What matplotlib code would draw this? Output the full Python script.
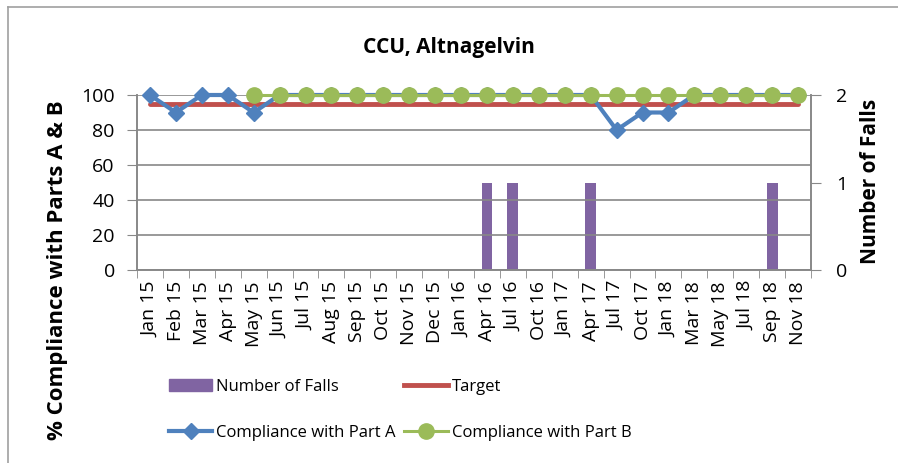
import numpy as np
import matplotlib.pyplot as plt
from matplotlib.lines import Line2D
from matplotlib.patches import Patch

months = ['Jan 15', 'Feb 15', 'Mar 15', 'Apr 15', 'May 15', 'Jun 15', 'Jul 15',
          'Aug 15', 'Sep 15', 'Oct 15', 'Nov 15', 'Dec 15', 'Jan 16', 'Apr 16',
          'Jul 16', 'Oct 16', 'Jan 17', 'Apr 17', 'Jul 17', 'Oct 17', 'Jan 18',
          'Mar 18', 'May 18', 'Jul 18', 'Sep 18', 'Nov 18']
falls = [0, 0, 0, 0, 0, 0, 0, 0, 0, 0, 0, 0, 0, 1, 1, 0, 0, 1, 0, 0, 0, 0, 0, 0, 1, 0]
target = [95, 95, 95, 95, 95, 95, 95, 95, 95, 95, 95, 95, 95, 95, 95, 95, 95, 95,
          95, 95, 95, 95, 95, 95, 95, 95]
part_a = [100, 90, 100, 100, 90, 100, 100, 100, 100, 100, 100, 100, 100, 100, 100,
          100, 100, 100, 80, 90, 90, 100, 100, 100, 100, 100]
part_b = [None, None, None, None, 100, 100, 100, 100, 100, 100, 100, 100, 100, 100,
          100, 100, 100, 100, 100, 100, 100, 100, 100, 100, 100, 100]

plt.rcParams['font.family'] = ['Open Sans', 'DejaVu Sans']
plt.rcParams['font.size'] = 12

purple = '#8064A2'
red = '#C0504D'
blue = '#4F81BD'
green = '#9BBB59'
grey = '#888888'

x = np.arange(len(months))
pb = np.array([np.nan if v is None else v for v in part_b], dtype=float)

fig = plt.figure(figsize=(8.98, 4.63), dpi=100)
ax = fig.add_axes([137 / 898, 1 - 270 / 463, (811 - 137) / 898, 175 / 463])
ax2 = ax.twinx()

ax2.bar(x, falls, width=0.42, color=purple, zorder=2)
ax2.set_ylim(0, 2)
ax2.set_yticks([0, 1, 2])

ax.set_zorder(ax2.get_zorder() + 1)
ax.patch.set_visible(False)

ax.plot(x, target, color=red, lw=3.5, solid_capstyle='round', zorder=3, clip_on=False)
ax.plot(x, part_a, color=blue, lw=3, marker='D', markersize=8, zorder=4, clip_on=False)
ax.plot(x, pb, color=green, lw=2.2, marker='o', markersize=11, zorder=5, clip_on=False)

ax.set_ylim(0, 100)
ax.set_yticks([0, 20, 40, 60, 80, 100])
ax.set_xlim(-0.5, len(months) - 0.5)
ax.set_xticks(x)
ax.set_xticklabels(months, rotation=90, fontsize=14)
ax.set_xticks(np.arange(len(months) + 1) - 0.5, minor=True)
ax.tick_params(axis='x', which='major', length=0, pad=8)
ax.tick_params(axis='x', which='minor', length=6, color=grey, direction='out')
ax.tick_params(axis='y', length=7, color=grey, direction='out', pad=9, labelsize=14)
ax2.tick_params(axis='y', length=7, color=grey, direction='out', pad=11, labelsize=14)

for a in (ax, ax2):
    a.spines['top'].set_visible(False)
    for s in ('left', 'right', 'bottom'):
        a.spines[s].set_color(grey)
        a.spines[s].set_linewidth(1.2)

ax.grid(axis='y', color=grey, lw=1.2)
ax.set_axisbelow(True)

fig.text(0.5, 1 - 47 / 463, 'CCU, Altnagelvin', ha='center', va='center',
         fontsize=15, fontweight='bold')
fig.text(58 / 898, 1 - 270 / 463, '% Compliance with Parts A & B', rotation=90,
         ha='center', va='center', fontsize=16, fontweight='bold')
fig.text(871 / 898, 1 - 181 / 463, 'Number of Falls', rotation=90,
         ha='center', va='center', fontsize=15, fontweight='bold')

handles = [Patch(color=purple),
           Line2D([], [], color=blue, lw=3, marker='D', markersize=8),
           Line2D([], [], color=red, lw=3.5),
           Line2D([], [], color=green, lw=2.2, marker='o', markersize=11)]
labels = ['Number of Falls', 'Compliance with Part A', 'Target', 'Compliance with Part B']
fig.legend(handles, labels, ncol=2, frameon=False, loc='upper left',
           bbox_to_anchor=(154 / 898, 1 - 364 / 463), handlelength=2.6,
           handletextpad=0.25, columnspacing=0.5, labelspacing=1.8, fontsize=12)

fig.add_artist(Line2D([8 / 898, 8 / 898], [0, 1 - 7 / 463], color='#a0a0a0', lw=1.2))
fig.add_artist(Line2D([8 / 898, 1], [1 - 7 / 463, 1 - 7 / 463], color='#a0a0a0', lw=1.2))

fig.savefig('out.png', dpi=100)
